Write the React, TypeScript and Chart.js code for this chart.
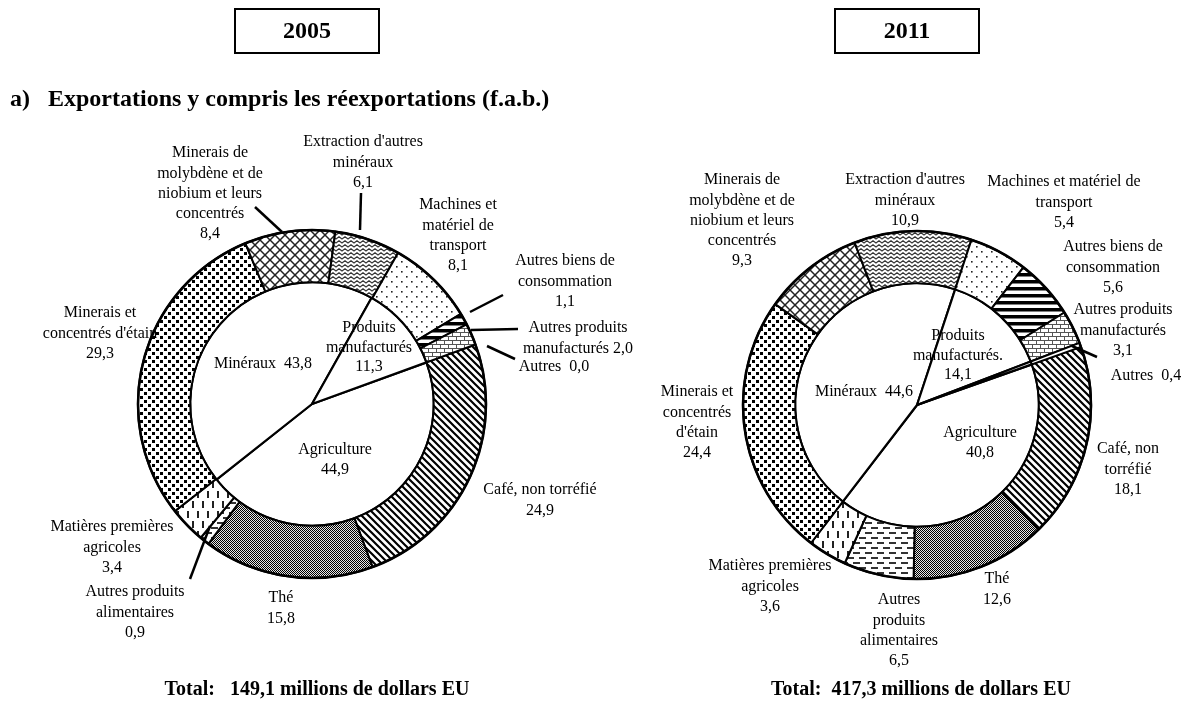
import React, { useEffect, useRef } from "react";
import { Chart, registerables } from "chart.js";

Chart.register(...registerables);

// ---------- DATA ----------
const years = ["2005", "2011"];
const categories = [
  "Café, non torréfié",
  "Thé",
  "Autres produits alimentaires",
  "Matières premières agricoles",
  "Minerais et concentrés d'étain",
  "Minerais de molybdène et de niobium et leurs concentrés",
  "Extraction d'autres minéraux",
  "Machines et matériel de transport",
  "Autres biens de consommation",
  "Autres produits manufacturés",
  "Autres",
];
const values2005 = [24.9, 15.8, 0.9, 3.4, 29.3, 8.4, 6.1, 8.1, 1.1, 2.0, 0.0];
const values2011 = [18.1, 12.6, 6.5, 3.6, 24.4, 9.3, 10.9, 5.4, 5.6, 3.1, 0.4];
const groups = ["Agriculture", "Minéraux", "Produits manufacturés", "Autres"];
const groups2005 = [44.9, 43.8, 11.3, 0.0];
const groups2011 = [40.8, 44.6, 14.1, 0.4];
const totals = [149.1, 417.3];
const titleText = "Exportations y compris les réexportations (f.a.b.)";

// ---------- LABEL TEXT SPLITS ----------
const names2005 = [
  ["Café, non torréfié"],
  ["Thé"],
  ["Autres produits", "alimentaires"],
  ["Matières premières", "agricoles"],
  ["Minerais et", "concentrés d'étain"],
  ["Minerais de", "molybdène et de", "niobium et leurs", "concentrés"],
  ["Extraction d'autres", "minéraux"],
  ["Machines et", "matériel de", "transport"],
  ["Autres biens de", "consommation"],
  ["Autres produits", "manufacturés"],
  ["Autres"],
];
const sep2005 = ["\n", "\n", "\n", "\n", "\n", "\n", "\n", "\n", "\n", " ", "  "];
const names2011 = [
  ["Café, non", "torréfié"],
  ["Thé"],
  ["Autres", "produits", "alimentaires"],
  ["Matières premières", "agricoles"],
  ["Minerais et", "concentrés", "d'étain"],
  ["Minerais de", "molybdène et de", "niobium et leurs", "concentrés"],
  ["Extraction d'autres", "minéraux"],
  ["Machines et matériel de", "transport"],
  ["Autres biens de", "consommation"],
  ["Autres produits", "manufacturés"],
  ["Autres"],
];
const sep2011 = ["\n", "\n", "\n", "\n", "\n", "\n", "\n", "\n", "\n", "\n", "  "];
const groupNames2005 = [["Agriculture"], ["Minéraux"], ["Produits", "manufacturés"], null];
const groupSep2005 = ["\n", "  ", "\n", ""];
const groupNames2011 = [["Agriculture"], ["Minéraux"], ["Produits", "manufacturés."], null];
const groupSep2011 = ["\n", "  ", "\n", ""];

// ---------- LAYOUT (page coordinates of first text line centres) ----------
const pos2005 = [[540, 490], [281, 598], [135, 592], [112, 527], [100, 313], [210, 153], [363, 142], [458, 205], [565, 261], [578, 328], [554, 367]];
const leaders2005 = [[210, 526, 190, 579], [255, 207, 282, 232], [361, 193, 360, 230], [470, 312, 503, 295], [471, 330, 518, 329], [487, 346, 515, 359]];
const groupPos2005 = [[335, 450], [263, 364], [369, 328], null];
const pos2011 = [[1128, 449], [997, 579], [899, 600], [770, 566], [697, 392], [742, 180], [905, 180], [1064, 182], [1113, 247], [1123, 310], [1146, 376]];
const leaders2011 = [[1072, 346, 1097, 357]];
const groupPos2011 = [[980, 433], [864, 392], [958, 336], null];

const SERIF = "'Liberation Serif', 'Times New Roman', serif";
const LH = 20.3;
const W = 1190;
const H = 702;

function fmt(v: number) {
  return v.toFixed(1).replace(".", ",");
}

function makePatterns(ctx: CanvasRenderingContext2D) {
  const tile = (w: number, h: number, draw: (g: CanvasRenderingContext2D) => void) => {
    const c = document.createElement("canvas");
    c.width = w;
    c.height = h;
    const g = c.getContext("2d") as CanvasRenderingContext2D;
    g.fillStyle = "#fff";
    g.fillRect(0, 0, w, h);
    draw(g);
    return ctx.createPattern(c, "repeat") as CanvasPattern;
  };
  const cafe = tile(7, 7, (g) => {
    g.strokeStyle = "#000";
    g.lineWidth = 2.2;
    g.beginPath();
    g.moveTo(-1, -1); g.lineTo(8, 8);
    g.moveTo(6, -1); g.lineTo(15, 8);
    g.moveTo(-8, -1); g.lineTo(1, 8);
    g.stroke();
  });
  const the = tile(2, 2, (g) => {
    g.fillStyle = "#000";
    g.fillRect(0, 0, 1, 1);
    g.fillRect(1, 1, 1, 1);
    g.fillStyle = "#e6e6e6";
    g.fillRect(1, 0, 1, 1);
    g.fillRect(0, 1, 1, 1);
  });
  const alim = tile(12, 10, (g) => {
    g.fillStyle = "#333";
    g.fillRect(1, 2, 7, 2);
    g.fillRect(7, 7, 7, 2);
    g.fillRect(-5, 7, 7, 2);
  });
  const matprem = tile(10, 20, (g) => {
    g.fillStyle = "#222";
    g.fillRect(2, 1, 2, 7);
    g.fillRect(7, 11, 2, 7);
  });
  const etain = tile(8, 8, (g) => {
    g.fillStyle = "#000";
    g.fillRect(0, 0, 3, 3);
    g.fillRect(4, 4, 3, 3);
  });
  const molyb = tile(10, 10, (g) => {
    g.strokeStyle = "#222";
    g.lineWidth = 1.5;
    g.beginPath();
    g.moveTo(-1, -1); g.lineTo(11, 11);
    g.moveTo(11, -1); g.lineTo(-1, 11);
    g.stroke();
  });
  const extr = tile(6, 4, (g) => {
    g.strokeStyle = "#333";
    g.lineWidth = 1.2;
    g.beginPath();
    g.moveTo(-1, 3.5); g.lineTo(0, 3); g.lineTo(3, 0.8); g.lineTo(6, 3); g.lineTo(7, 3.5);
    g.stroke();
  });
  const mach = tile(10, 10, (g) => {
    g.fillStyle = "#222";
    g.fillRect(1, 1, 1.6, 1.6);
    g.fillRect(6, 6, 1.6, 1.6);
  });
  const biens = tile(7, 7, (g) => {
    g.fillStyle = "#000";
    g.fillRect(0, 0, 7, 3.5);
  });
  const manuf = tile(8, 8, (g) => {
    g.strokeStyle = "#555";
    g.lineWidth = 1;
    g.beginPath();
    g.moveTo(0, 0.5); g.lineTo(8, 0.5);
    g.moveTo(0, 4.5); g.lineTo(8, 4.5);
    g.moveTo(0.5, 0); g.lineTo(0.5, 4.5);
    g.moveTo(4.5, 4.5); g.lineTo(4.5, 8);
    g.stroke();
  });
  return [cafe, the, alim, matprem, etain, molyb, extr, mach, biens, manuf, "#ffffff"];
}

type Cfg = {
  yearIndex: number;
  values: number[];
  groupValues: number[];
  names: string[][];
  seps: string[];
  pos: number[][];
  leaders: number[][];
  groupNames: (string[] | null)[];
  groupSeps: string[];
  groupPos: (number[] | null)[];
  padding: { left: number; top: number; right: number; bottom: number };
  rotation: number;
  box: number[];
  totalX: number;
  totalSpaces: string;
  drawTitle: boolean;
};

function buildLines(lines: string[], sep: string, v: number) {
  if (sep === "\n") return [...lines, fmt(v)];
  const out = lines.slice(0, -1);
  out.push(lines[lines.length - 1] + sep + fmt(v));
  return out;
}

function makePlugin(cfg: Cfg) {
  return {
    id: "annot" + cfg.yearIndex,
    afterDatasetsDraw(chart: any) {
      const ctx = chart.ctx as CanvasRenderingContext2D;
      const arc = chart.getDatasetMeta(0).data[0];
      ctx.save();
      ctx.strokeStyle = "#000";
      ctx.lineWidth = 2.6;
      ctx.beginPath();
      ctx.arc(arc.x, arc.y, arc.outerRadius, 0, Math.PI * 2);
      ctx.stroke();
      ctx.restore();
    },
    afterDraw(chart: any) {
      const ctx = chart.ctx as CanvasRenderingContext2D;
      ctx.save();
      ctx.fillStyle = "#000";
      ctx.strokeStyle = "#000";
      ctx.textAlign = "center";
      ctx.textBaseline = "middle";
      ctx.font = `16px ${SERIF}`;
      cfg.names.forEach((lines, i) => {
        const all = buildLines(lines, cfg.seps[i], cfg.values[i]);
        const [x, y] = cfg.pos[i];
        all.forEach((t, k) => ctx.fillText(t, x, y + k * LH));
      });
      cfg.groupNames.forEach((lines, i) => {
        const p = cfg.groupPos[i];
        if (!lines || !p) return;
        const all = buildLines(lines, cfg.groupSeps[i], cfg.groupValues[i]);
        all.forEach((t, k) => ctx.fillText(t, p[0], p[1] + k * (LH - 1)));
      });
      ctx.lineWidth = 2.5;
      cfg.leaders.forEach(([x1, y1, x2, y2]) => {
        ctx.beginPath();
        ctx.moveTo(x1, y1);
        ctx.lineTo(x2, y2);
        ctx.stroke();
      });
      // year box
      const [bx, by, bw, bh] = cfg.box;
      ctx.lineWidth = 2;
      ctx.strokeRect(bx, by, bw, bh);
      ctx.font = `bold 24px ${SERIF}`;
      ctx.fillText(years[cfg.yearIndex], bx + bw / 2, by + bh / 2 + 1);
      // title
      if (cfg.drawTitle) {
        ctx.font = `bold 24px ${SERIF}`;
        ctx.textAlign = "left";
        ctx.fillText("a)", 10, 100);
        ctx.fillText(titleText, 48, 100);
      }
      // total
      ctx.textAlign = "center";
      ctx.font = `bold 20px ${SERIF}`;
      ctx.fillText(`Total:${cfg.totalSpaces}${fmt(totals[cfg.yearIndex])} millions de dollars EU`, cfg.totalX, 690);
      ctx.restore();
    },
  };
}

function DonutChart({ cfg }: { cfg: Cfg }) {
  const ref = useRef<HTMLCanvasElement | null>(null);
  useEffect(() => {
    const canvas = ref.current;
    if (!canvas) return;
    const ctx = canvas.getContext("2d") as CanvasRenderingContext2D;
    const patterns = makePatterns(ctx);
    const chart = new Chart(canvas, {
      type: "doughnut",
      data: {
        labels: categories,
        datasets: [
          {
            data: cfg.values,
            backgroundColor: patterns as any,
            borderColor: "#000",
            borderWidth: 2,
            weight: 0.3,
          } as any,
          {
            data: cfg.groupValues,
            backgroundColor: "#ffffff",
            borderColor: "#000",
            borderWidth: 2.2,
            weight: 0.7,
            label: groups.join(","),
          } as any,
        ],
      },
      options: {
        responsive: false,
        animation: false,
        events: [],
        rotation: cfg.rotation,
        cutout: 0,
        layout: { padding: cfg.padding },
        plugins: {
          legend: { display: false },
          tooltip: { enabled: false },
          title: { display: false },
        },
      } as any,
      plugins: [makePlugin(cfg) as any],
    });
    return () => chart.destroy();
  }, [cfg]);
  return (
    <canvas
      ref={ref}
      width={W}
      height={H}
      style={{ position: "absolute", left: 0, top: 0, width: W, height: H }}
    />
  );
}

const cfg2005: Cfg = {
  yearIndex: 0,
  values: values2005,
  groupValues: groups2005,
  names: names2005,
  seps: sep2005,
  pos: pos2005,
  leaders: leaders2005,
  groupNames: groupNames2005,
  groupSeps: groupSep2005,
  groupPos: groupPos2005,
  padding: { left: 137, top: 229, right: 703, bottom: 123 },
  rotation: 70,
  box: [235, 9, 144, 44],
  totalX: 317,
  totalSpaces: "   ",
  drawTitle: true,
};

const cfg2011: Cfg = {
  yearIndex: 1,
  values: values2011,
  groupValues: groups2011,
  names: names2011,
  seps: sep2011,
  pos: pos2011,
  leaders: leaders2011,
  groupNames: groupNames2011,
  groupSeps: groupSep2011,
  groupPos: groupPos2011,
  padding: { left: 742, top: 230, right: 98, bottom: 122 },
  rotation: 70.5,
  box: [835, 9, 144, 44],
  totalX: 921,
  totalSpaces: "  ",
  drawTitle: false,
};

export default function App() {
  return (
    <div
      style={{
        position: "fixed",
        left: 0,
        top: 0,
        width: W,
        height: H,
        background: "#fff",
        overflow: "hidden",
      }}
    >
      <DonutChart cfg={cfg2005} />
      <DonutChart cfg={cfg2011} />
    </div>
  );
}
